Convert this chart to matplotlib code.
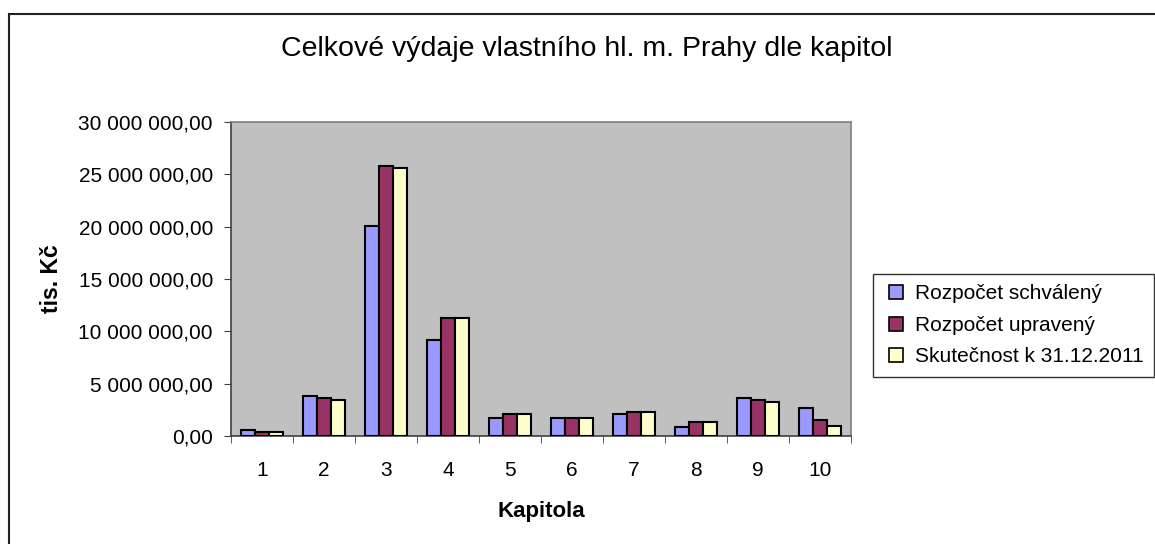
import matplotlib
matplotlib.use('Agg')
import matplotlib.pyplot as plt
from matplotlib.patches import Rectangle
from matplotlib.lines import Line2D
from matplotlib.ticker import FuncFormatter
import numpy as np

plt.rcParams['font.family'] = ['Liberation Sans', 'DejaVu Sans']

kapitoly = ['1', '2', '3', '4', '5', '6', '7', '8', '9', '10']
schvaleny = [570000, 3820000, 20040000, 9160000, 1720000, 1690000, 2100000, 890000, 3600000, 2670000]
upraveny = [350000, 3600000, 25770000, 11230000, 2100000, 1690000, 2290000, 1340000, 3440000, 1500000]
skutecnost = [380000, 3440000, 25580000, 11230000, 2100000, 1690000, 2290000, 1340000, 3240000, 950000]
serie = ['Rozpočet schválený', 'Rozpočet upravený', 'Skutečnost k 31.12.2011']
barvy = ['#9999FF', '#993366', '#FFFFCC']

W, H = 1155, 544
fig = plt.figure(figsize=(W / 100, H / 100), dpi=100)
fig.patch.set_facecolor('white')

# vnejsi ramecek grafu (vpravo a dole oriznuty)
fig.add_artist(Rectangle((8.5 / W, -0.05), 1.2, 1.05 - 13.5 / H, transform=fig.transFigure,
                         fill=False, edgecolor='#222222', linewidth=1.5, clip_on=False))

ax = fig.add_axes([231 / W, (H - 436) / H, 620 / W, 314 / H])
ax.set_facecolor('#C0C0C0')

x = np.arange(len(kapitoly))
w = 0.23
for i, (vals, c, name) in enumerate(zip([schvaleny, upraveny, skutecnost], barvy, serie)):
    ax.bar(x + (i - 1) * w, vals, w, color=c, edgecolor='black', linewidth=1.5,
           label=name, zorder=3)

ax.set_xlim(-0.5, len(kapitoly) - 0.5)
ax.set_ylim(0, 30000000)
ax.set_yticks(np.arange(0, 30000001, 5000000))
ax.yaxis.set_major_formatter(FuncFormatter(
    lambda v, p: f"{v:,.2f}".replace(',', ' ').replace('.', ',')))
ax.set_xticks(x)
ax.set_xticklabels(kapitoly)
ax.set_xticks(np.arange(-0.5, len(kapitoly)), minor=True)
ax.tick_params(axis='x', which='major', length=0, pad=18, labelsize=15)
ax.tick_params(axis='x', which='minor', length=5, direction='out', color='#404040')
ax.tick_params(axis='y', length=5, direction='out', color='#404040', labelsize=15, pad=8)

for s in ['top', 'right']:
    ax.spines[s].set_color('#808080')
for s in ['left', 'bottom']:
    ax.spines[s].set_color('#404040')
for s in ax.spines.values():
    s.set_linewidth(1.2)

ax.set_ylabel('tis. Kč', fontsize=16.5, fontweight='bold', labelpad=11)
ax.set_xlabel('Kapitola', fontsize=16, fontweight='bold', labelpad=15)

fig.text(587 / W, 1 - 56 / H, 'Celkové výdaje vlastního hl. m. Prahy dle kapitol',
         ha='center', va='baseline', fontsize=20.5)

handles = [Line2D([], [], linestyle='none', marker='s', markersize=10,
                  markerfacecolor=c, markeredgecolor='black', markeredgewidth=1.2)
           for c in barvy]
leg = fig.legend(handles, serie, loc='upper left', bbox_to_anchor=(873 / W, 1 - 274 / H),
                 frameon=True, fancybox=False, fontsize=15, handlelength=1.2,
                 handletextpad=0.3, labelspacing=0.6, borderpad=0.5, borderaxespad=0)
leg.get_frame().set_edgecolor('black')
leg.get_frame().set_linewidth(1.0)

fig.savefig('out.png', dpi=100)
